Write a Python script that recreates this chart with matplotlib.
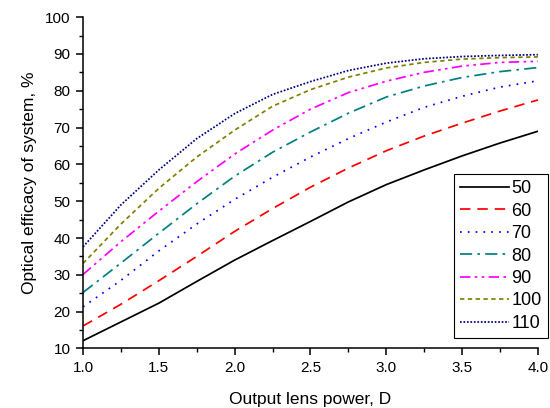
import matplotlib

matplotlib.use("Agg")
import matplotlib.pyplot as plt
from matplotlib.ticker import MultipleLocator

plt.rcParams.update({
    "font.family": ["Liberation Sans", "DejaVu Sans"],
    "axes.linewidth": 1.1,
    "xtick.direction": "out",
    "ytick.direction": "out",
})

# Output lens power, D
power = [1.0, 1.25, 1.5, 1.75, 2.0, 2.25, 2.5, 2.75, 3.0, 3.25, 3.5, 3.75, 4.0]

# Optical efficacy (%) for each curve
eff_50 = [12.1, 17.2, 22.3, 28.2, 34.0, 39.3, 44.5, 49.8, 54.5, 58.5, 62.3, 65.8, 69.0]
eff_60 = [16.1, 22.0, 28.4, 35.0, 41.8, 48.0, 53.8, 59.0, 63.7, 67.7, 71.2, 74.5, 77.5]
eff_70 = [21.3, 28.5, 36.5, 43.8, 50.5, 56.5, 62.0, 67.0, 71.5, 75.5, 78.5, 81.0, 82.7]
eff_80 = [25.2, 33.2, 41.3, 49.3, 56.8, 63.3, 68.8, 73.9, 78.3, 81.3, 83.6, 85.2, 86.3]
eff_90 = [30.1, 39.0, 47.3, 55.3, 62.8, 69.3, 75.0, 79.5, 82.6, 85.0, 86.7, 87.7, 88.0]
eff_100 = [33.1, 43.8, 53.5, 62.0, 69.3, 75.8, 80.3, 83.7, 86.2, 87.7, 88.6, 89.0, 89.2]
eff_110 = [37.6, 49.0, 58.5, 67.0, 73.8, 79.0, 82.5, 85.5, 87.5, 88.7, 89.3, 89.6, 89.8]

labels = ["50", "60", "70", "80", "90", "100", "110"]
series = [eff_50, eff_60, eff_70, eff_80, eff_90, eff_100, eff_110]

colors = ["black", "#FF0000", "#0000FF", "#008080", "#FF00FF", "#808000", "#000080"]
styles = [
    "-",
    (0, (6, 4)),
    (0, (1, 3.5)),
    (0, (7, 3, 1.5, 3)),
    (0, (6, 2.5, 1.5, 2.5, 1.5, 2.5)),
    (0, (2.5, 2)),
    (0, (1, 1)),
]

fig = plt.figure(figsize=(5.5, 4.08), dpi=100)
ax = fig.add_axes([0.151, 0.146, 0.827, 0.812])

for vals, lbl, col, ls in zip(series, labels, colors, styles):
    ax.plot(power, vals, color=col, linestyle=ls, linewidth=1.25, label=lbl)

ax.set_xlim(1.0, 4.0)
ax.set_ylim(10, 100)
ax.xaxis.set_major_locator(MultipleLocator(0.5))
ax.xaxis.set_minor_locator(MultipleLocator(0.25))
ax.yaxis.set_major_locator(MultipleLocator(10))
ax.yaxis.set_minor_locator(MultipleLocator(5))
ax.xaxis.set_major_formatter(lambda v, p: f"{v:.1f}")
ax.tick_params(which="major", length=5, width=1.1, labelsize=11, pad=4)
ax.tick_params(which="minor", length=3, width=1.0)
ax.spines["top"].set_visible(False)
ax.spines["right"].set_visible(False)

ax.set_xlabel("Output lens power, D", fontsize=12.5, labelpad=12)
ax.set_ylabel("Optical efficacy of system, %", fontsize=12.5, labelpad=6)

leg = ax.legend(loc="lower right", bbox_to_anchor=(1.022, 0.031), borderaxespad=0,
                fontsize=13, handlelength=2.7, handletextpad=0.15,
                labelspacing=0.3, borderpad=0.35, fancybox=False,
                framealpha=1, edgecolor="black")
leg.get_frame().set_linewidth(0.8)
leg.set_clip_on(False)

fig.savefig("out.png", dpi=100, facecolor="white")
